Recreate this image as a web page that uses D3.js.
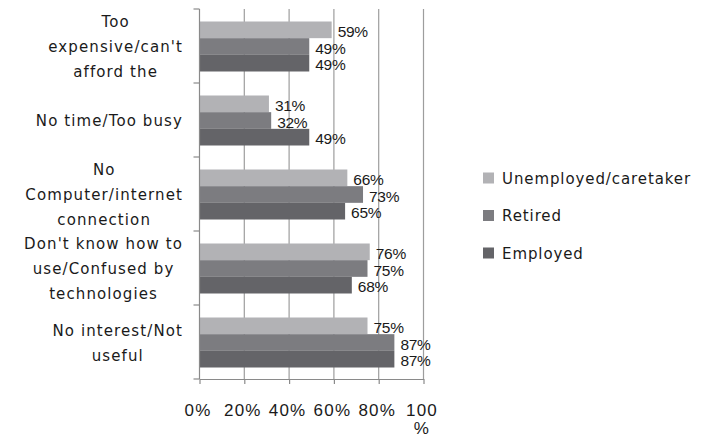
<!DOCTYPE html>
<html>
<head>
<meta charset="utf-8">
<script src="https://cdn.jsdelivr.net/npm/d3@7"></script>
<style>
  html, body { margin: 0; padding: 0; background: #fff; }
  svg { display: block; }
</style>
</head>
<body>
<svg id="chart" width="705" height="438"></svg>
<script>
// Reasons for not using the internet, by employment status (share of respondents)
const categories = [
  "Too expensive/can't afford the",
  "No time/Too busy",
  "No Computer/internet connection",
  "Don't know how to use/Confused by technologies",
  "No interest/Not useful"
];
const categoryLines = [
  ["Too", "expensive/can't", "afford the"],
  ["No time/Too busy"],
  ["No", "Computer/internet", "connection"],
  ["Don't know how to", "use/Confused by", "technologies"],
  ["No interest/Not", "useful"]
];
const seriesNames = ["Unemployed/caretaker", "Retired", "Employed"];
const unemployed = [0.59, 0.31, 0.66, 0.76, 0.75];
const retired    = [0.49, 0.32, 0.73, 0.75, 0.87];
const employed   = [0.49, 0.49, 0.65, 0.68, 0.87];
const seriesColors = ["#b2b2b5", "#7c7c80", "#646468"];
const tickValues = [0, 0.2, 0.4, 0.6, 0.8, 1.0];
const tickLabels = ["0%", "20%", "40%", "60%", "80%", "100%"];

const seriesValues = [unemployed, retired, employed];

const svg = d3.select("#chart");
const plotLeft = 199.5, plotRight = 423.5, plotTop = 9, plotBottom = 379;

const x = d3.scaleLinear().domain([0, 1]).range([plotLeft, plotRight]);
const y = d3.scaleBand().domain(categories).range([plotTop, plotBottom]).paddingInner(0).paddingOuter(0);
const yInner = d3.scaleBand().domain(seriesNames).range([12.5, y.bandwidth() - 11.5]).padding(0);

// vertical gridlines
svg.append("g")
  .selectAll("line")
  .data(tickValues.slice(1))
  .join("line")
  .attr("x1", d => x(d)).attr("x2", d => x(d))
  .attr("y1", plotTop).attr("y2", plotBottom)
  .attr("stroke", "#9d9d9d")
  .attr("stroke-width", 1.2);

// bars
const groups = svg.append("g")
  .selectAll("g")
  .data(categories)
  .join("g")
  .attr("transform", d => `translate(0,${y(d)})`);

groups.each(function(cat, ci) {
  const g = d3.select(this);
  const rows = seriesNames.map((s, si) => ({ s, si, v: seriesValues[si][ci] }));
  g.selectAll("rect")
    .data(rows)
    .join("rect")
    .attr("x", x(0))
    .attr("y", d => yInner(d.s))
    .attr("width", d => x(d.v) - x(0))
    .attr("height", yInner.bandwidth())
    .attr("fill", d => seriesColors[d.si]);
  g.selectAll("text")
    .data(rows)
    .join("text")
    .attr("x", d => x(d.v) + 6)
    .attr("y", d => yInner(d.s) + yInner.bandwidth() / 2 + 1.5)
    .attr("dominant-baseline", "central")
    .attr("font-family", "Liberation Sans, Arial, sans-serif")
    .attr("font-size", 15.5)
    .attr("letter-spacing", -0.3)
    .attr("fill", "#1a1a1a")
    .text(d => Math.round(d.v * 100) + "%");
});

// left axis with category boundary ticks
const boundaries = categories.map(c => y(c)).concat([plotBottom]);
svg.append("line")
  .attr("x1", plotLeft).attr("x2", plotLeft)
  .attr("y1", plotTop).attr("y2", plotBottom)
  .attr("stroke", "#8a8a8a").attr("stroke-width", 1.2);
svg.append("g")
  .selectAll("line")
  .data(boundaries)
  .join("line")
  .attr("x1", plotLeft - 6).attr("x2", plotLeft)
  .attr("y1", d => d).attr("y2", d => d)
  .attr("stroke", "#8a8a8a").attr("stroke-width", 1.2);

// bottom axis
const xAxis = d3.axisBottom(x)
  .tickValues(tickValues)
  .tickSize(5)
  .tickSizeOuter(0)
  .tickFormat((d, i) => tickLabels[i]);
const gx = svg.append("g")
  .attr("transform", `translate(0,${plotBottom})`)
  .call(xAxis);
gx.select(".domain").attr("stroke", "#8a8a8a").attr("stroke-width", 1.2);
gx.selectAll(".tick line").attr("stroke", "#8a8a8a").attr("stroke-width", 1.2);
gx.selectAll(".tick text")
  .attr("font-family", "Liberation Sans, Arial, sans-serif")
  .attr("font-size", 17)
  .attr("letter-spacing", 1.2)
  .attr("fill", "#1a1a1a")
  .attr("dy", null)
  .attr("y", 37)
  .attr("x", -2)
  .each(function() {
    // wrap labels wider than the space between ticks: "100" / "%"
    const t = d3.select(this);
    const slot = x(0.2) - x(0) - 4;
    if (this.getComputedTextLength() > slot) {
      const label = t.text();
      const parts = [label.replace("%", ""), "%"];
      t.text(null);
      parts.forEach((p, k) => {
        t.append("tspan").attr("x", -2).attr("dy", k === 0 ? 0 : 18).text(p);
      });
    }
  });

// category labels: lines centred in a block aligned against the axis
const labelRight = 183;
const lineH = 25;
categoryLines.forEach((lines, ci) => {
  const cy = y(categories[ci]) + y.bandwidth() / 2 + 1;
  const t = svg.append("text")
    .attr("font-family", "DejaVu Sans, sans-serif")
    .attr("font-size", 15)
    .attr("letter-spacing", 1.1)
    .attr("fill", "#1a1a1a")
    .attr("text-anchor", "middle");
  const spans = lines.map((ln, k) =>
    t.append("tspan")
      .attr("dominant-baseline", "central")
      .attr("y", cy + (k - (lines.length - 1) / 2) * lineH)
      .text(ln));
  const widest = d3.max(spans, s => s.node().getComputedTextLength());
  spans.forEach(s => s.attr("x", labelRight - widest / 2));
});

// legend
const legend = svg.append("g")
  .selectAll("g")
  .data(seriesNames)
  .join("g")
  .attr("transform", (d, i) => `translate(483,${178 + i * 37.5})`);
legend.append("rect")
  .attr("x", 0).attr("y", -5.5)
  .attr("width", 11).attr("height", 11)
  .attr("fill", (d, i) => seriesColors[i]);
legend.append("text")
  .attr("x", 19).attr("y", 0.5)
  .attr("dominant-baseline", "central")
  .attr("font-family", "DejaVu Sans, sans-serif")
  .attr("font-size", 15)
  .attr("letter-spacing", 0.9)
  .attr("fill", "#1a1a1a")
  .text(d => d);
</script>
</body>
</html>
